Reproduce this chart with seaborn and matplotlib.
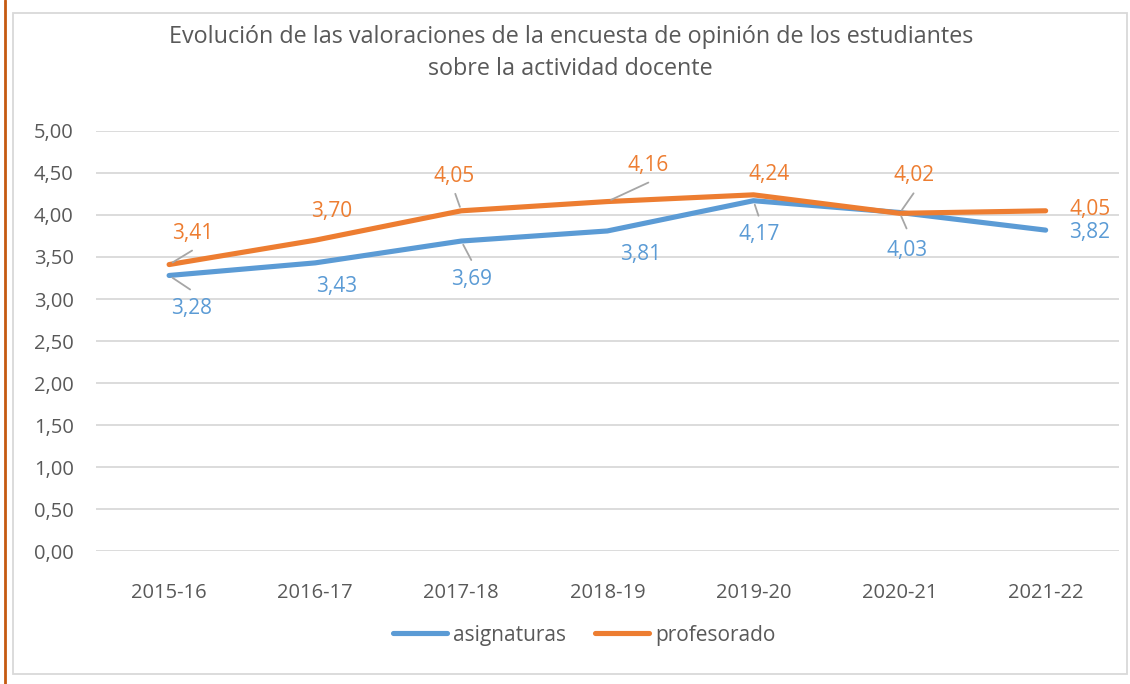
import numpy as np
import pandas as pd
import matplotlib
matplotlib.use("Agg")
import matplotlib.pyplot as plt
import seaborn as sns
from matplotlib.lines import Line2D
from matplotlib.patches import Rectangle

# data
cursos = ['2015-16', '2016-17', '2017-18', '2018-19', '2019-20', '2020-21', '2021-22']
asignaturas = [3.28, 3.43, 3.69, 3.81, 4.17, 4.03, 3.82]
profesorado = [3.41, 3.70, 4.05, 4.16, 4.24, 4.02, 4.05]

BLUE = '#5B9BD5'
ORANGE = '#ED7D31'
GREY = '#595959'

df = pd.concat([
    pd.DataFrame({'curso': cursos, 'valor': asignaturas, 'serie': 'asignaturas'}),
    pd.DataFrame({'curso': cursos, 'valor': profesorado, 'serie': 'profesorado'}),
])
df['x'] = df['curso'].map({c: i for i, c in enumerate(cursos)})

sns.set_theme(style='white')
plt.rcParams['font.family'] = ['Open Sans', 'DejaVu Sans']

fig = plt.figure(figsize=(11.3, 6.84), dpi=100)
ax = fig.add_axes([0.085, 0.1944, 0.905, 0.6141])

sns.lineplot(data=df, x='x', y='valor', hue='serie', palette=[BLUE, ORANGE],
             linewidth=3.7, ax=ax, legend=False, solid_capstyle='round')

yt = np.arange(0, 5.01, 0.5)
ax.set_xlim(-0.5, len(cursos) - 0.5)
ax.set_ylim(0, 5)
ax.set_yticks(yt)
ax.set_yticklabels([f'{v:.2f}'.replace('.', ',') for v in yt])
ax.set_xticks(range(len(cursos)))
ax.set_xticklabels(cursos)
ax.tick_params(axis='both', length=0, labelsize=14.5, colors=GREY)
ax.tick_params(axis='y', pad=16)
ax.tick_params(axis='x', pad=23)
ax.set_xlabel('')
ax.set_ylabel('')
ax.grid(axis='y', color='#D9D9D9', linewidth=1.3)
ax.set_axisbelow(True)
for s in ax.spines.values():
    s.set_visible(False)

# data labels: text offset (px) and leader-line end offset (px) or None
asig_txt = [(22, -33), (21, -24), (10, -38), (33, -24), (6, -34), (8, -38), (44, -2)]
asig_lead = [(21, -14), None, (10, -19), None, (5, -15), (7, -16), None]
prof_txt = [(24, 31), (16, 29), (-7, 34), (41, 36), (16, 20), (15, 38), (44, 1)]
prof_lead = [(23, 14), None, (-6, 17), (41, 19), None, (14, 20), None]


def put_labels(vals, txt_off, lead_off, color):
    for i, v in enumerate(vals):
        if lead_off[i] is not None:
            ax.annotate('', xy=(i, v), xytext=lead_off[i], textcoords='offset pixels',
                        arrowprops=dict(arrowstyle='-', color='#A6A6A6', lw=1.3,
                                        shrinkA=0, shrinkB=3))
        ax.annotate(f'{v:.2f}'.replace('.', ','), (i, v), xytext=txt_off[i],
                    textcoords='offset pixels', ha='center', va='center',
                    fontsize=15, color=color)


put_labels(asignaturas, asig_txt, asig_lead, BLUE)
put_labels(profesorado, prof_txt, prof_lead, ORANGE)

fig.text(0.505, 0.922,
         'Evolución de las valoraciones de la encuesta de opinión de los estudiantes\nsobre la actividad docente',
         ha='center', va='center', fontsize=16.8, color=GREY, linespacing=1.45)

handles = [Line2D([], [], color=BLUE, lw=3.7, solid_capstyle='round'),
           Line2D([], [], color=ORANGE, lw=3.7, solid_capstyle='round')]
fig.legend(handles, ['asignaturas', 'profesorado'], loc='center', bbox_to_anchor=(0.517, 0.0716),
           ncol=2, frameon=False, fontsize=15, handlelength=2.6, handletextpad=0.3,
           columnspacing=1.4, labelcolor=GREY)

# chart border and orange left rule
fig.patches.append(Rectangle((13 / 1130, 10 / 684), 1114 / 1130, 661 / 684,
                             transform=fig.transFigure, fill=False,
                             edgecolor='#D9D9D9', lw=1.3))
fig.lines.append(Line2D([5 / 1130, 5 / 1130], [0, 1], transform=fig.transFigure,
                        color='#C55A11', lw=2))

fig.savefig('out.png', dpi=100)
